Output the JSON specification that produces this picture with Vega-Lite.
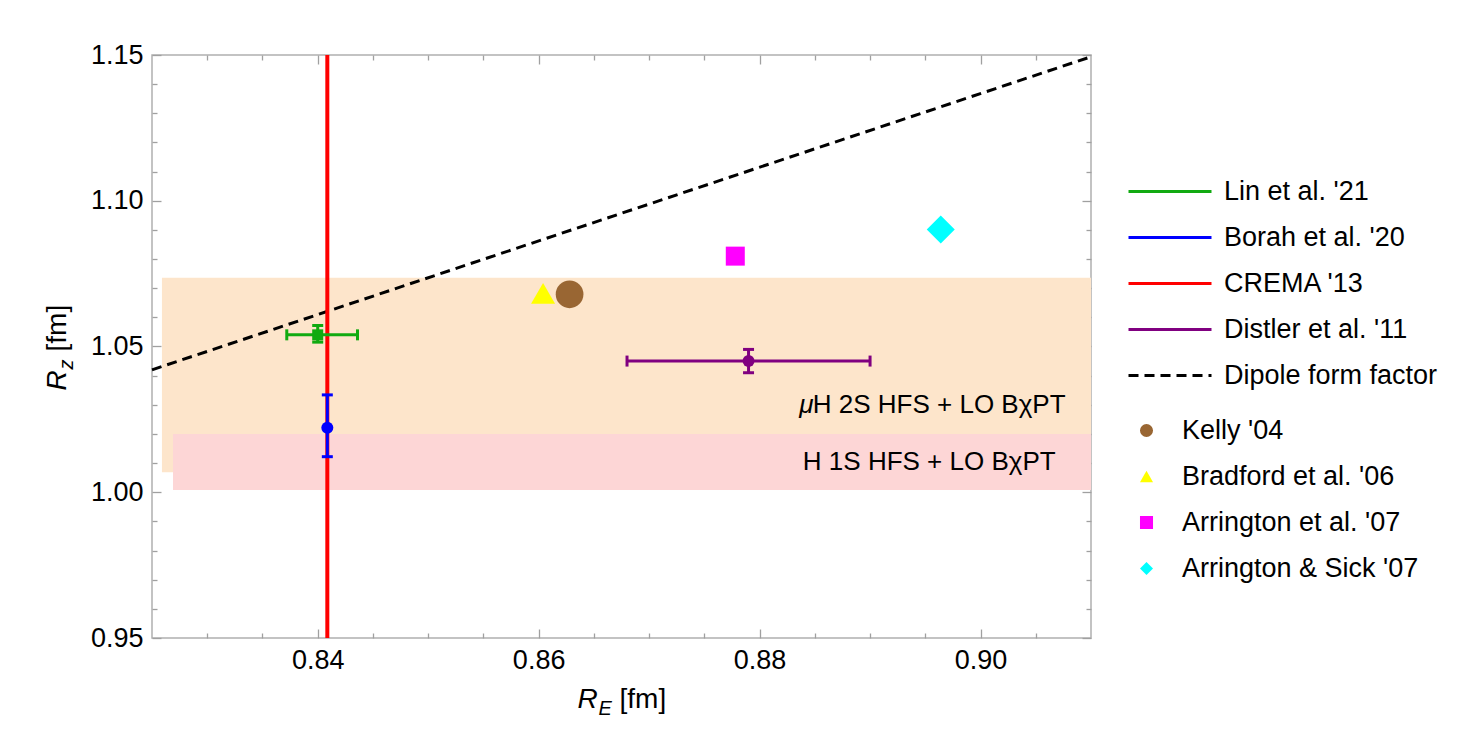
{
  "$schema": "https://vega.github.io/schema/vega-lite/v6.json",
  "width": 939,
  "height": 583,
  "autosize": {"type": "none"},
  "padding": {"left": 152, "top": 55, "right": 387, "bottom": 115},
  "background": "white",
  "config": {
    "view": {"stroke": "#b0b0b0", "strokeWidth": 1.5},
    "font": "Liberation Sans",
    "text": {"font": "Liberation Sans"},
    "axis": {"domain": false, "grid": false, "tickColor": "#a0a0a0", "tickWidth": 1.3, "labelFont": "Liberation Sans", "labelFontSize": 27, "labelColor": "black", "labelFlush": false, "labelOverlap": false}
  },
  "datasets": {
    "bands": [
      {"band": "muH", "re": 0.8259, "re2": 0.91, "rz": 1.0069, "rz2": 1.0736},
      {"band": "H", "re": 0.8269, "re2": 0.91, "rz": 1.0008, "rz2": 1.02}
    ],
    "bandlabels": [
      {"label": "H 2S HFS + LO BχPT", "prefix": "μ", "re": 0.9077, "rz": 1.030},
      {"label": "H 1S HFS + LO BχPT", "prefix": "", "re": 0.9068, "rz": 1.0105}
    ],
    "dipole": [
      {"series": "Dipole form factor", "re": 0.825, "rz": 1.0420},
      {"series": "Dipole form factor", "re": 0.91, "rz": 1.1494}
    ],
    "crema": [{"series": "CREMA '13", "re": 0.84087}],
    "hbars": [
      {"series": "Lin et al. '21", "re": 0.8372, "re2": 0.8436, "rz": 1.0540},
      {"series": "Distler et al. '11", "re": 0.868, "re2": 0.890, "rz": 1.045}
    ],
    "vbars": [
      {"series": "Lin et al. '21", "re": 0.8400, "rz": 1.0515, "rz2": 1.0572},
      {"series": "Borah et al. '20", "re": 0.84087, "rz": 1.0122, "rz2": 1.0334},
      {"series": "Distler et al. '11", "re": 0.879, "rz": 1.041, "rz2": 1.049}
    ],
    "centers": [
      {"series": "Lin et al. '21", "re": 0.8400, "rz": 1.0540},
      {"series": "Borah et al. '20", "re": 0.84087, "rz": 1.0221},
      {"series": "Distler et al. '11", "re": 0.879, "rz": 1.045}
    ],
    "samples": [
      {"sample": "Kelly '04", "re": 0.8628, "rz": 1.0679},
      {"sample": "Bradford et al. '06", "re": 0.8604, "rz": 1.0682},
      {"sample": "Arrington et al. '07", "re": 0.8778, "rz": 1.0810},
      {"sample": "Arrington & Sick '07", "re": 0.8964, "rz": 1.0901}
    ]
  },
  "resolve": {"axis": {"x": "independent", "y": "independent"}},
  "layer": [
    {
      "data": {"name": "bands"},
      "transform": [{"filter": "datum.band == 'muH'"}],
      "mark": {"type": "rect", "color": "#fde5cb"},
      "encoding": {
        "x": {"field": "re", "type": "quantitative", "scale": {"domain": [0.825, 0.91], "nice": false, "zero": false},
              "axis": {"orient": "bottom", "values": [0.84, 0.86, 0.88, 0.9], "format": ".2f", "tickSize": -9, "labelPadding": 18, "title": null}},
        "x2": {"field": "re2"},
        "y": {"field": "rz", "type": "quantitative", "scale": {"domain": [0.95, 1.15], "nice": false, "zero": false},
              "axis": {"orient": "left", "values": [0.95, 1.0, 1.05, 1.1, 1.15], "format": ".2f", "tickSize": -9, "labelPadding": 18, "title": null}},
        "y2": {"field": "rz2"}
      }
    },
    {
      "data": {"name": "bands"},
      "transform": [{"filter": "datum.band == 'H'"}],
      "mark": {"type": "rect", "color": "#fdd6d6"},
      "encoding": {
        "x": {"field": "re", "type": "quantitative", "scale": {"domain": [0.825, 0.91], "nice": false, "zero": false},
              "axis": {"orient": "bottom", "values": [0.83, 0.835, 0.845, 0.85, 0.855, 0.865, 0.87, 0.875, 0.885, 0.89, 0.895, 0.905], "labels": false, "tickSize": -5, "title": null}},
        "x2": {"field": "re2"},
        "y": {"field": "rz", "type": "quantitative", "scale": {"domain": [0.95, 1.15], "nice": false, "zero": false},
              "axis": {"orient": "left", "values": [0.96, 0.97, 0.98, 0.99, 1.01, 1.02, 1.03, 1.04, 1.06, 1.07, 1.08, 1.09, 1.11, 1.12, 1.13, 1.14], "labels": false, "tickSize": -5, "title": null}},
        "y2": {"field": "rz2"}
      }
    },
    {
      "data": {"name": "bandlabels"},
      "mark": {"type": "text", "align": "right", "baseline": "middle", "fontSize": 26, "color": "black", "font": "Liberation Sans"},
      "encoding": {
        "text": {"field": "label"},
        "x": {"field": "re", "type": "quantitative", "scale": {"domain": [0.825, 0.91], "nice": false, "zero": false},
              "axis": {"orient": "top", "values": [0.84, 0.86, 0.88, 0.9], "labels": false, "tickSize": -9, "title": null}},
        "y": {"field": "rz", "type": "quantitative", "scale": {"domain": [0.95, 1.15], "nice": false, "zero": false},
              "axis": {"orient": "right", "values": [0.95, 1.0, 1.05, 1.1, 1.15], "labels": false, "tickSize": -9, "title": null}}
      }
    },
    {
      "data": {"name": "dipole"},
      "mark": {"type": "line", "strokeWidth": 3},
      "encoding": {
        "x": {"field": "re", "type": "quantitative", "scale": {"domain": [0.825, 0.91], "nice": false, "zero": false},
              "axis": {"orient": "top", "values": [0.83, 0.835, 0.845, 0.85, 0.855, 0.865, 0.87, 0.875, 0.885, 0.89, 0.895, 0.905], "labels": false, "tickSize": -5, "title": null}},
        "y": {"field": "rz", "type": "quantitative", "scale": {"domain": [0.95, 1.15], "nice": false, "zero": false},
              "axis": {"orient": "right", "values": [0.96, 0.97, 0.98, 0.99, 1.01, 1.02, 1.03, 1.04, 1.06, 1.07, 1.08, 1.09, 1.11, 1.12, 1.13, 1.14], "labels": false, "tickSize": -5, "title": null}},
        "color": {"field": "series", "type": "nominal",
                  "scale": {"domain": ["Lin et al. '21", "Borah et al. '20", "CREMA '13", "Distler et al. '11", "Dipole form factor"], "range": ["#11aa11", "#0000ff", "#ff0000", "#800080", "#000000"]},
                  "legend": {"orient": "none", "legendX": 975, "legendY": 123, "title": null, "symbolType": "stroke", "symbolSize": 6889, "symbolStrokeWidth": 3, "symbolOpacity": 1, "clipHeight": 27, "rowPadding": 18, "labelOffset": 11, "labelFontSize": 27, "labelFont": "Liberation Sans", "labelColor": "black", "padding": 0, "labelLimit": 400}},
        "strokeDash": {"field": "series", "type": "nominal",
                  "scale": {"domain": ["Lin et al. '21", "Borah et al. '20", "CREMA '13", "Distler et al. '11", "Dipole form factor"], "range": [[1, 0], [1, 0], [1, 0], [1, 0], [10, 6]]},
                  "legend": {"orient": "none", "legendX": 975, "legendY": 123, "title": null, "symbolType": "stroke", "symbolSize": 6889, "symbolStrokeWidth": 3, "symbolOpacity": 1, "clipHeight": 27, "rowPadding": 18, "labelOffset": 11, "labelFontSize": 27, "labelFont": "Liberation Sans", "labelColor": "black", "padding": 0, "labelLimit": 400}}
      }
    },
    {
      "layer": [
        {
          "data": {"name": "bandlabels"},
          "transform": [{"filter": "datum.prefix != ''"}],
          "mark": {"type": "text", "align": "right", "baseline": "middle", "fontSize": 26, "fontStyle": "italic", "color": "black", "dx": -252},
          "encoding": {
            "text": {"field": "prefix"},
            "x": {"field": "re", "type": "quantitative", "scale": {"domain": [0.825, 0.91], "nice": false, "zero": false}, "axis": null},
            "y": {"field": "rz", "type": "quantitative", "scale": {"domain": [0.95, 1.15], "nice": false, "zero": false}, "axis": null}
          }
        },
        {
          "data": {"name": "crema"},
          "mark": {"type": "rule", "strokeWidth": 4, "opacity": 1},
          "encoding": {
            "x": {"field": "re", "type": "quantitative", "scale": {"domain": [0.825, 0.91], "nice": false, "zero": false}, "axis": null},
            "color": {"field": "series", "type": "nominal",
                      "scale": {"domain": ["Lin et al. '21", "Borah et al. '20", "CREMA '13", "Distler et al. '11", "Dipole form factor"], "range": ["#11aa11", "#0000ff", "#ff0000", "#800080", "#000000"]},
                      "legend": {"orient": "none", "legendX": 975, "legendY": 123, "title": null, "symbolType": "stroke", "symbolSize": 6889, "symbolStrokeWidth": 3, "symbolOpacity": 1, "clipHeight": 27, "rowPadding": 18, "labelOffset": 11, "labelFontSize": 27, "labelFont": "Liberation Sans", "labelColor": "black", "padding": 0, "labelLimit": 400}}
          }
        },
        {
          "data": {"name": "hbars"},
          "mark": {"type": "errorbar", "ticks": {"size": 11, "thickness": 3, "opacity": 1}, "rule": {"strokeWidth": 3, "opacity": 1}, "thickness": 3, "size": 11},
          "encoding": {
            "x": {"field": "re", "type": "quantitative", "scale": {"domain": [0.825, 0.91], "nice": false, "zero": false}, "axis": null},
            "x2": {"field": "re2"},
            "y": {"field": "rz", "type": "quantitative", "scale": {"domain": [0.95, 1.15], "nice": false, "zero": false}, "axis": null},
            "color": {"field": "series", "type": "nominal",
                      "scale": {"domain": ["Lin et al. '21", "Borah et al. '20", "CREMA '13", "Distler et al. '11", "Dipole form factor"], "range": ["#11aa11", "#0000ff", "#ff0000", "#800080", "#000000"]},
                      "legend": {"orient": "none", "legendX": 975, "legendY": 123, "title": null, "symbolType": "stroke", "symbolSize": 6889, "symbolStrokeWidth": 3, "symbolOpacity": 1, "clipHeight": 27, "rowPadding": 18, "labelOffset": 11, "labelFontSize": 27, "labelFont": "Liberation Sans", "labelColor": "black", "padding": 0, "labelLimit": 400}}
          }
        },
        {
          "data": {"name": "vbars"},
          "mark": {"type": "errorbar", "ticks": {"size": 11, "thickness": 3, "opacity": 1}, "rule": {"strokeWidth": 3, "opacity": 1}, "thickness": 3, "size": 11},
          "encoding": {
            "x": {"field": "re", "type": "quantitative", "scale": {"domain": [0.825, 0.91], "nice": false, "zero": false}, "axis": null},
            "y": {"field": "rz", "type": "quantitative", "scale": {"domain": [0.95, 1.15], "nice": false, "zero": false}, "axis": null},
            "y2": {"field": "rz2"},
            "color": {"field": "series", "type": "nominal",
                      "scale": {"domain": ["Lin et al. '21", "Borah et al. '20", "CREMA '13", "Distler et al. '11", "Dipole form factor"], "range": ["#11aa11", "#0000ff", "#ff0000", "#800080", "#000000"]},
                      "legend": {"orient": "none", "legendX": 975, "legendY": 123, "title": null, "symbolType": "stroke", "symbolSize": 6889, "symbolStrokeWidth": 3, "symbolOpacity": 1, "clipHeight": 27, "rowPadding": 18, "labelOffset": 11, "labelFontSize": 27, "labelFont": "Liberation Sans", "labelColor": "black", "padding": 0, "labelLimit": 400}}
          }
        },
        {
          "data": {"name": "centers"},
          "transform": [{"filter": "datum.series == \"Lin et al. '21\""}],
          "mark": {"type": "point", "shape": "square", "filled": true, "size": 121, "color": "#11aa11", "opacity": 1, "strokeWidth": 0},
          "encoding": {
            "x": {"field": "re", "type": "quantitative", "scale": {"domain": [0.825, 0.91], "nice": false, "zero": false}, "axis": null},
            "y": {"field": "rz", "type": "quantitative", "scale": {"domain": [0.95, 1.15], "nice": false, "zero": false}, "axis": null}
          }
        },
        {
          "data": {"name": "centers"},
          "transform": [{"filter": "datum.series == \"Borah et al. '20\""}],
          "mark": {"type": "point", "shape": "circle", "filled": true, "size": 144, "color": "#0000ff", "opacity": 1, "strokeWidth": 0},
          "encoding": {
            "x": {"field": "re", "type": "quantitative", "scale": {"domain": [0.825, 0.91], "nice": false, "zero": false}, "axis": null},
            "y": {"field": "rz", "type": "quantitative", "scale": {"domain": [0.95, 1.15], "nice": false, "zero": false}, "axis": null}
          }
        },
        {
          "data": {"name": "centers"},
          "transform": [{"filter": "datum.series == \"Distler et al. '11\""}],
          "mark": {"type": "point", "shape": "circle", "filled": true, "size": 144, "color": "#800080", "opacity": 1, "strokeWidth": 0},
          "encoding": {
            "x": {"field": "re", "type": "quantitative", "scale": {"domain": [0.825, 0.91], "nice": false, "zero": false}, "axis": null},
            "y": {"field": "rz", "type": "quantitative", "scale": {"domain": [0.95, 1.15], "nice": false, "zero": false}, "axis": null}
          }
        },
        {
          "data": {"name": "samples"},
          "transform": [{"filter": "datum.sample == \"Kelly '04\""}],
          "mark": {"type": "point", "filled": true, "size": 767, "opacity": 1, "strokeWidth": 0},
          "encoding": {
            "x": {"field": "re", "type": "quantitative", "scale": {"domain": [0.825, 0.91], "nice": false, "zero": false}, "axis": null},
            "y": {"field": "rz", "type": "quantitative", "scale": {"domain": [0.95, 1.15], "nice": false, "zero": false}, "axis": null},
            "fill": {"field": "sample", "type": "nominal", "scale": {"domain": ["Kelly '04", "Bradford et al. '06", "Arrington et al. '07", "Arrington & Sick '07"], "range": ["#996633", "#ffff00", "#ff00ff", "#00ffff"]},
                     "legend": {"orient": "none", "legendX": 981, "legendY": 362, "title": null, "symbolSize": 170, "clipHeight": 27, "rowPadding": 18, "labelOffset": 22, "labelFontSize": 27, "labelFont": "Liberation Sans", "labelColor": "black", "padding": 0, "symbolStrokeWidth": 0, "symbolOpacity": 1, "labelLimit": 400}},
            "shape": {"field": "sample", "type": "nominal", "scale": {"domain": ["Kelly '04", "Bradford et al. '06", "Arrington et al. '07", "Arrington & Sick '07"], "range": ["circle", "triangle-up", "square", "diamond"]},
                     "legend": {"orient": "none", "legendX": 981, "legendY": 362, "title": null, "symbolSize": 170, "clipHeight": 27, "rowPadding": 18, "labelOffset": 22, "labelFontSize": 27, "labelFont": "Liberation Sans", "labelColor": "black", "padding": 0, "symbolStrokeWidth": 0, "symbolOpacity": 1, "labelLimit": 400}}
          }
        },
        {
          "data": {"name": "samples"},
          "transform": [{"filter": "datum.sample == \"Bradford et al. '06\""}],
          "mark": {"type": "point", "filled": true, "size": 576, "opacity": 1, "strokeWidth": 0},
          "encoding": {
            "x": {"field": "re", "type": "quantitative", "scale": {"domain": [0.825, 0.91], "nice": false, "zero": false}, "axis": null},
            "y": {"field": "rz", "type": "quantitative", "scale": {"domain": [0.95, 1.15], "nice": false, "zero": false}, "axis": null},
            "fill": {"field": "sample", "type": "nominal", "scale": {"domain": ["Kelly '04", "Bradford et al. '06", "Arrington et al. '07", "Arrington & Sick '07"], "range": ["#996633", "#ffff00", "#ff00ff", "#00ffff"]}},
            "shape": {"field": "sample", "type": "nominal", "scale": {"domain": ["Kelly '04", "Bradford et al. '06", "Arrington et al. '07", "Arrington & Sick '07"], "range": ["circle", "triangle-up", "square", "diamond"]}}
          }
        },
        {
          "data": {"name": "samples"},
          "transform": [{"filter": "datum.sample == \"Arrington et al. '07\""}],
          "mark": {"type": "point", "filled": true, "size": 361, "opacity": 1, "strokeWidth": 0},
          "encoding": {
            "x": {"field": "re", "type": "quantitative", "scale": {"domain": [0.825, 0.91], "nice": false, "zero": false}, "axis": null},
            "y": {"field": "rz", "type": "quantitative", "scale": {"domain": [0.95, 1.15], "nice": false, "zero": false}, "axis": null},
            "fill": {"field": "sample", "type": "nominal", "scale": {"domain": ["Kelly '04", "Bradford et al. '06", "Arrington et al. '07", "Arrington & Sick '07"], "range": ["#996633", "#ffff00", "#ff00ff", "#00ffff"]}},
            "shape": {"field": "sample", "type": "nominal", "scale": {"domain": ["Kelly '04", "Bradford et al. '06", "Arrington et al. '07", "Arrington & Sick '07"], "range": ["circle", "triangle-up", "square", "diamond"]}}
          }
        },
        {
          "data": {"name": "samples"},
          "transform": [{"filter": "datum.sample == \"Arrington & Sick '07\""}],
          "mark": {"type": "point", "filled": true, "size": 784, "opacity": 1, "strokeWidth": 0},
          "encoding": {
            "x": {"field": "re", "type": "quantitative", "scale": {"domain": [0.825, 0.91], "nice": false, "zero": false}, "axis": null},
            "y": {"field": "rz", "type": "quantitative", "scale": {"domain": [0.95, 1.15], "nice": false, "zero": false}, "axis": null},
            "fill": {"field": "sample", "type": "nominal", "scale": {"domain": ["Kelly '04", "Bradford et al. '06", "Arrington et al. '07", "Arrington & Sick '07"], "range": ["#996633", "#ffff00", "#ff00ff", "#00ffff"]}},
            "shape": {"field": "sample", "type": "nominal", "scale": {"domain": ["Kelly '04", "Bradford et al. '06", "Arrington et al. '07", "Arrington & Sick '07"], "range": ["circle", "triangle-up", "square", "diamond"]}}
          }
        },
        {
          "data": {"values": [{}]},
          "mark": {"type": "text", "text": "R", "fontStyle": "italic", "fontSize": 28, "align": "left", "baseline": "alphabetic", "dx": -44, "color": "black"},
          "encoding": {
            "x": {"datum": 0.8675, "type": "quantitative", "scale": {"domain": [0.825, 0.91], "nice": false, "zero": false}, "axis": null},
            "y": {"datum": 0.926, "type": "quantitative", "scale": {"domain": [0.95, 1.15], "nice": false, "zero": false}, "axis": null}
          }
        },
        {
          "data": {"values": [{}]},
          "mark": {"type": "text", "text": "E", "fontStyle": "italic", "fontSize": 20, "align": "left", "baseline": "alphabetic", "dx": -23, "dy": 7, "color": "black"},
          "encoding": {
            "x": {"datum": 0.8675, "type": "quantitative", "scale": {"domain": [0.825, 0.91], "nice": false, "zero": false}, "axis": null},
            "y": {"datum": 0.926, "type": "quantitative", "scale": {"domain": [0.95, 1.15], "nice": false, "zero": false}, "axis": null}
          }
        },
        {
          "data": {"values": [{}]},
          "mark": {"type": "text", "text": "[fm]", "fontSize": 28, "align": "left", "baseline": "alphabetic", "dx": -2, "color": "black"},
          "encoding": {
            "x": {"datum": 0.8675, "type": "quantitative", "scale": {"domain": [0.825, 0.91], "nice": false, "zero": false}, "axis": null},
            "y": {"datum": 0.926, "type": "quantitative", "scale": {"domain": [0.95, 1.15], "nice": false, "zero": false}, "axis": null}
          }
        },
        {
          "data": {"values": [{}]},
          "mark": {"type": "text", "text": "R", "fontStyle": "italic", "fontSize": 28, "align": "left", "baseline": "alphabetic", "angle": 270, "dx": -44, "color": "black"},
          "encoding": {
            "x": {"datum": 0.81724, "type": "quantitative", "scale": {"domain": [0.825, 0.91], "nice": false, "zero": false}, "axis": null},
            "y": {"datum": 1.05, "type": "quantitative", "scale": {"domain": [0.95, 1.15], "nice": false, "zero": false}, "axis": null}
          }
        },
        {
          "data": {"values": [{}]},
          "mark": {"type": "text", "text": "z", "fontStyle": "italic", "fontSize": 20, "align": "left", "baseline": "alphabetic", "angle": 270, "dx": -23, "dy": 7, "color": "black"},
          "encoding": {
            "x": {"datum": 0.81724, "type": "quantitative", "scale": {"domain": [0.825, 0.91], "nice": false, "zero": false}, "axis": null},
            "y": {"datum": 1.05, "type": "quantitative", "scale": {"domain": [0.95, 1.15], "nice": false, "zero": false}, "axis": null}
          }
        },
        {
          "data": {"values": [{}]},
          "mark": {"type": "text", "text": "[fm]", "fontSize": 28, "align": "left", "baseline": "alphabetic", "angle": 270, "dx": -5, "color": "black"},
          "encoding": {
            "x": {"datum": 0.81724, "type": "quantitative", "scale": {"domain": [0.825, 0.91], "nice": false, "zero": false}, "axis": null},
            "y": {"datum": 1.05, "type": "quantitative", "scale": {"domain": [0.95, 1.15], "nice": false, "zero": false}, "axis": null}
          }
        }
      ]
    }
  ]
}
